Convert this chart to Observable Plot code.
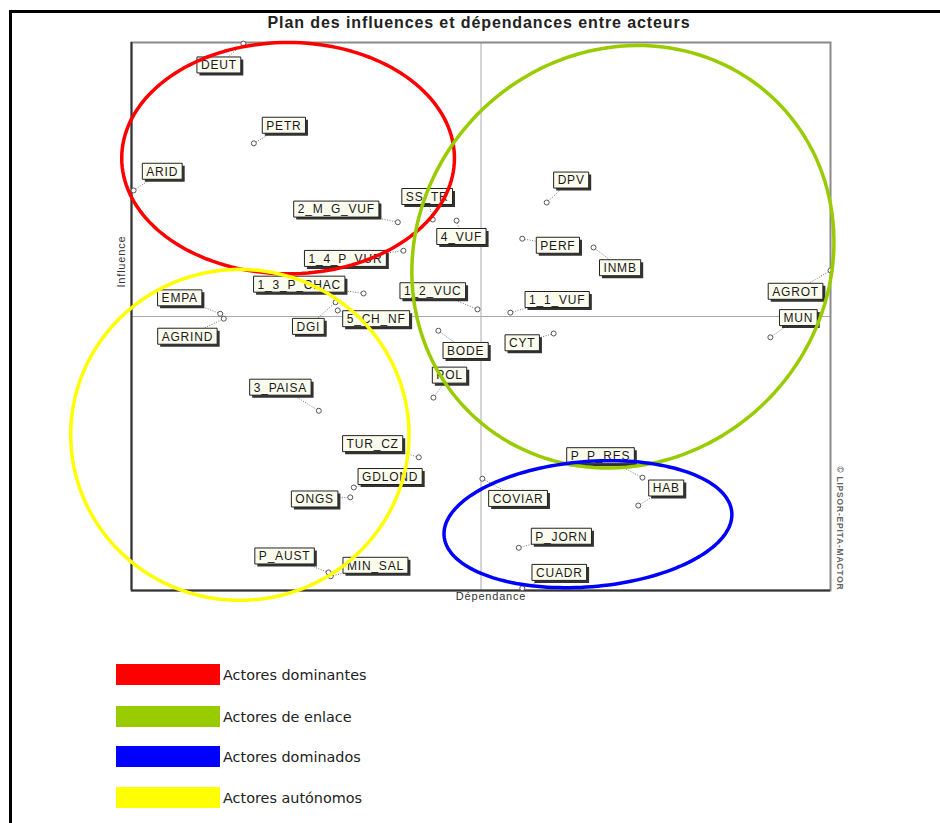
<!DOCTYPE html>
<html>
<head>
<meta charset="utf-8">
<script src="https://cdn.jsdelivr.net/npm/d3@7"></script>
<script src="https://cdn.jsdelivr.net/npm/@observablehq/plot@0.6"></script>
<style>
  html, body { margin: 0; padding: 0; background: #fff; }
  body { width: 940px; height: 823px; position: relative; overflow: hidden; font-family: "Liberation Sans", Arial, sans-serif; }
  #border { position: absolute; left: 9px; top: 10px; width: 940px; height: 823px; border-top: 3px solid #000; border-left: 3px solid #000; }
  #title { position: absolute; top: 14px; left: 0; width: 958px; text-align: center; font: bold 16px "Liberation Sans", Arial, sans-serif; letter-spacing: 0.9px; color: #222; }
  #chart { position: absolute; left: 0; top: 0; }
  #chart svg { overflow: visible; }
  #chart svg text { letter-spacing: 0.8px; }
  .leg { position: absolute; left: 116px; height: 21px; display: flex; align-items: center; }
  .leg .sw { width: 104px; height: 21px; }
  .leg .lt { margin-left: 3px; font: 14.4px "DejaVu Sans", sans-serif; color: #222; white-space: nowrap; }
</style>
</head>
<body>
<div id="border"></div>
<div id="chart"></div>
<div id="title">Plan des influences et dépendances entre acteurs</div>
<div id="legend"></div>
<script>
// ---- data ----
const actors = ["DEUT","PETR","ARID","2_M_G_VUF","SS_TR","4_VUF","1_4_P_VUR","1_3_P_CHAC","EMPA","AGRIND","DGI","5_CH_NF","1_2_VUC","1_1_VUF","BODE","CYT","POL","DPV","PERF","INMB","AGROT","MUN","3_PAISA","TUR_CZ","GDLOND","ONGS","P_AUST","MIN_SAL","P_P_RES","HAB","COVIAR","P_JORN","CUADR"];
const dependance = [16.0,17.5,0.3,38.1,43.1,46.5,38.9,33.2,12.7,13.2,29.2,29.5,49.5,54.2,43.9,60.4,43.2,59.4,55.9,66.1,100,91.4,26.8,41.1,31.8,31.3,28.2,28.5,73.1,72.5,50.2,55.4,55.9];
const influence = [99.8,81.6,73.0,67.2,67.7,67.5,62.0,54.2,50.5,49.6,52.6,51.1,51.3,50.7,47.4,46.9,35.2,70.8,64.2,62.6,58.4,46.2,32.8,24.3,18.8,17.0,3.3,2.6,20.6,15.5,20.4,7.8,0.4];
// label anchor positions (same units)
const labelX = [12.5,21.8,4.4,29.3,42.3,47.2,30.6,24.0,6.9,8.0,25.3,35.0,43.1,60.9,47.8,55.9,45.5,62.9,61.0,69.9,95.0,95.4,21.3,34.5,37.0,26.2,21.9,34.9,67.1,76.5,55.3,61.5,61.2];
const labelY = [95.9,84.9,76.5,69.6,71.9,64.6,60.6,55.9,53.4,46.4,48.2,49.6,54.7,53.1,43.8,45.2,39.3,74.9,63.0,58.9,54.6,49.8,37.1,26.8,20.8,16.7,6.3,4.6,24.6,18.7,16.8,9.9,3.3];

// groups (ellipses) and legend
const groups = ["Actores dominantes","Actores de enlace","Actores dominados","Actores autónomos"];
const groupColors = ["#ff0000","#99cc00","#0000ff","#ffff00"];
const groupCx = [22.4,70.3,65.3,15.5];
const groupCy = [78.9,60.9,12.1,28.4];
const groupRx = [23.8,30.0,20.7,24.2];
const groupRy = [21.1,38.7,11.4,30.2];
const groupAngle = [0,-8,7,0];

const axisX = "Dépendance";
const axisY = "Influence";
const credit = "© LIPSOR-EPITA-MACTOR";

// ---- build tables ----
const points = actors.map((name, i) => ({name, x: dependance[i], y: influence[i], lx: labelX[i], ly: labelY[i]}));

const ellipse = [];
groups.forEach((g, k) => {
  const a = groupAngle[k] * Math.PI / 180;
  const n = 160;
  for (let j = 0; j < n; j++) {
    const t = 2 * Math.PI * j / n;
    const ex = groupRx[k] * Math.cos(t), ey = groupRy[k] * Math.sin(t);
    ellipse.push({g, color: groupColors[k],
      x: groupCx[k] + ex * Math.cos(a) - ey * Math.sin(a),
      y: groupCy[k] + ex * Math.sin(a) + ey * Math.cos(a)});
  }
});

// label box symbols sized to the text
const LABEL_FONT = "12px 'Liberation Sans'";
const SPACING = 0.8;
const ctx = document.createElement("canvas").getContext("2d");
ctx.font = LABEL_FONT;
function boxSymbol(w, h) {
  return {draw(c) { c.moveTo(-w/2, -h/2); c.lineTo(w/2, -h/2); c.lineTo(w/2, h/2); c.lineTo(-w/2, h/2); c.closePath(); }};
}
points.forEach(p => {
  const w = ctx.measureText(p.name).width + p.name.length * SPACING + 8;
  p.box = boxSymbol(w, 16);
});

const chart = Plot.plot({
  width: 940,
  height: 615,
  marginLeft: 131,
  marginRight: 110,
  marginTop: 42,
  marginBottom: 25,
  style: {background: "transparent", fontFamily: "'Liberation Sans', Arial, sans-serif"},
  x: {domain: [0, 100], axis: null},
  y: {domain: [0, 100], axis: null},
  marks: [
    Plot.ruleX([50], {stroke: "#aaa", strokeWidth: 1}),
    Plot.ruleY([50], {stroke: "#aaa", strokeWidth: 1}),
    Plot.frame({stroke: "#8a8a8a", strokeWidth: 2}),
    Plot.ruleX([0], {stroke: "#333", strokeWidth: 2}),
    Plot.ruleY([0], {stroke: "#333", strokeWidth: 2}),
    Plot.text([axisY], {frameAnchor: "left", rotate: -90, dx: -10, dy: -29, fontSize: 11, fill: "#333"}),
    Plot.text([axisX], {frameAnchor: "bottom", dx: 10, dy: 9, fontSize: 11, fill: "#333"}),
    Plot.text([credit], {frameAnchor: "bottom-right", rotate: 90, textAnchor: "end", dx: 6, dy: 0, fontSize: 8.5, fontWeight: "bold", fill: "#666"}),
    Plot.link(points, {x1: "x", y1: "y", x2: "lx", y2: "ly", stroke: "#777", strokeWidth: 1, strokeDasharray: "1,1.5"}),
    Plot.dot(points, {x: "x", y: "y", r: 2.5, stroke: "#555", strokeWidth: 1, fill: "#fff"}),
    Plot.dot(points, {x: "lx", y: "ly", symbol: "box", dx: 2.5, dy: 2.5, fill: "#333", stroke: "none", r: 3}),
    Plot.dot(points, {x: "lx", y: "ly", symbol: "box", fill: "#fbfbee", stroke: "#222", strokeWidth: 1, r: 3}),
    Plot.text(points, {x: "lx", y: "ly", text: "name", fontSize: 12, fill: "#1a1a1a", dy: 0.5}),
    Plot.line(ellipse, {x: "x", y: "y", z: "g", stroke: "color", strokeWidth: 3.5, curve: "linear-closed"})
  ]
});
document.getElementById("chart").appendChild(chart);

// legend
const legend = document.getElementById("legend");
const legendTops = [664, 706, 746, 787];
groups.forEach((g, k) => {
  const row = document.createElement("div");
  row.className = "leg";
  row.style.top = legendTops[k] + "px";
  row.innerHTML = `<div class="sw" style="background:${groupColors[k]}"></div><div class="lt">${g}</div>`;
  legend.appendChild(row);
});
</script>
</body>
</html>
